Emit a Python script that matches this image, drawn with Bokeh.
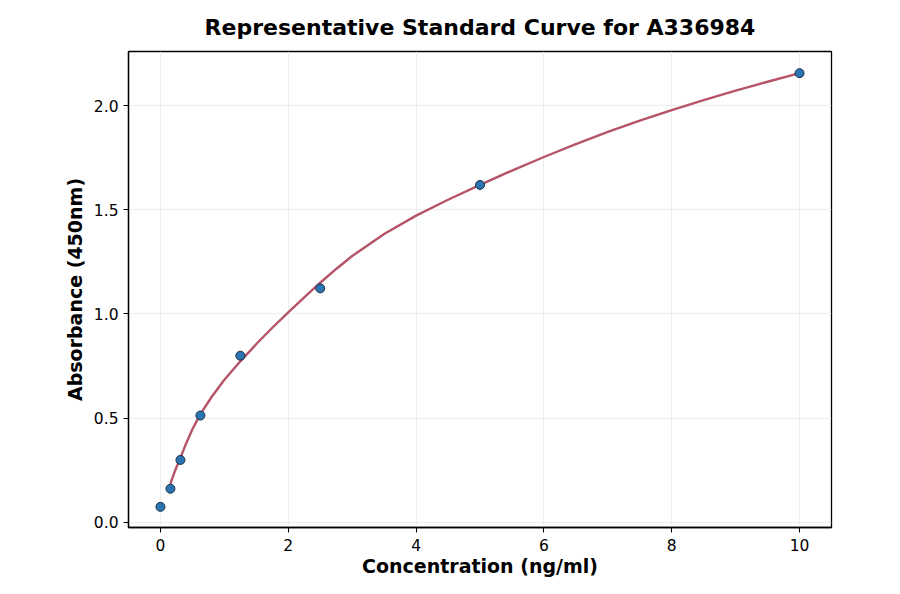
from bokeh.plotting import figure
from bokeh.models import Range1d, FixedTicker
from bokeh.embed import file_html
from bokeh.resources import INLINE

# Standard points
conc = [0.0, 0.156, 0.3125, 0.625, 1.25, 2.5, 5.0, 10.0]
absorb = [0.075, 0.162, 0.30, 0.513, 0.80, 1.123, 1.619, 2.155]

# Fitted curve
curve_x = [0.156, 0.2, 0.25, 0.3125, 0.4, 0.5, 0.625, 0.8, 1.0, 1.25, 1.5, 1.75, 2.0, 2.25, 2.5,
           2.75, 3.0, 3.5, 4.0, 4.5, 5.0, 5.5, 6.0, 6.5, 7.0, 7.5, 8.0, 8.5, 9.0, 9.5, 10.0]
curve_y = [0.185, 0.225, 0.265, 0.31, 0.378, 0.447, 0.52, 0.602, 0.685, 0.773, 0.856, 0.934,
           1.008, 1.08, 1.15, 1.216, 1.278, 1.384, 1.472, 1.548, 1.619, 1.688, 1.753, 1.815,
           1.873, 1.927, 1.978, 2.026, 2.071, 2.114, 2.155]

x_ticks = [0, 2, 4, 6, 8, 10]
y_ticks = [0.0, 0.5, 1.0, 1.5, 2.0]
y_tick_labels = {0.0: "0.0", 0.5: "0.5", 1.0: "1.0", 1.5: "1.5", 2.0: "2.0"}

FONT = "DejaVu Sans"

p = figure(width=884, height=584, output_backend="svg", toolbar_location=None,
           x_range=Range1d(-0.5, 10.5), y_range=Range1d(-0.024, 2.259),
           min_border_left=128, min_border_right=53, min_border_bottom=57, min_border_top=51,
           title="Representative Standard Curve for A336984")

p.title.align = "center"
p.title.vertical_align = "top"
p.title.text_font = FONT
p.title.text_font_size = "22px"
p.title.text_font_style = "bold"
p.title.text_color = "black"
p.title.offset = 0
p.title.standoff = 20

p.outline_line_color = "black"
p.outline_line_width = 1.3
p.background_fill_color = "white"
p.border_fill_color = "white"

for ax in (p.xaxis[0], p.yaxis[0]):
    ax.axis_line_color = "black"
    ax.axis_line_width = 1.3
    ax.major_tick_line_color = "black"
    ax.major_tick_line_width = 1.0
    ax.major_tick_out = 5
    ax.major_tick_in = 0
    ax.minor_tick_line_color = None
    ax.major_label_text_font = FONT
    ax.major_label_text_font_size = "15.5px"
    ax.major_label_text_color = "black"
    ax.axis_label_text_font = FONT
    ax.axis_label_text_font_size = "19px"
    ax.axis_label_text_font_style = "bold"
    ax.axis_label_text_color = "black"
    ax.major_label_standoff = 5

p.xaxis[0].ticker = FixedTicker(ticks=x_ticks)
p.yaxis[0].ticker = FixedTicker(ticks=y_ticks)
p.yaxis[0].major_label_overrides = y_tick_labels
p.xaxis[0].axis_label = "Concentration (ng/ml)"
p.yaxis[0].axis_label = "Absorbance (450nm)"
p.xaxis[0].major_label_standoff = 6
p.xaxis[0].axis_label_standoff = 1
p.yaxis[0].axis_label_standoff = 5

p.xgrid[0].ticker = FixedTicker(ticks=x_ticks)
p.ygrid[0].ticker = FixedTicker(ticks=y_ticks)
p.grid.grid_line_color = "#e8e8e8"
p.grid.grid_line_width = 0.8

p.line(curve_x, curve_y, line_color="#b55468", line_width=2.4)
p.scatter(conc, absorb, size=9, fill_color="#2a74b2", line_color="#1c2f45", line_width=1.0)

open("out.html", "w").write(file_html(p, INLINE))
